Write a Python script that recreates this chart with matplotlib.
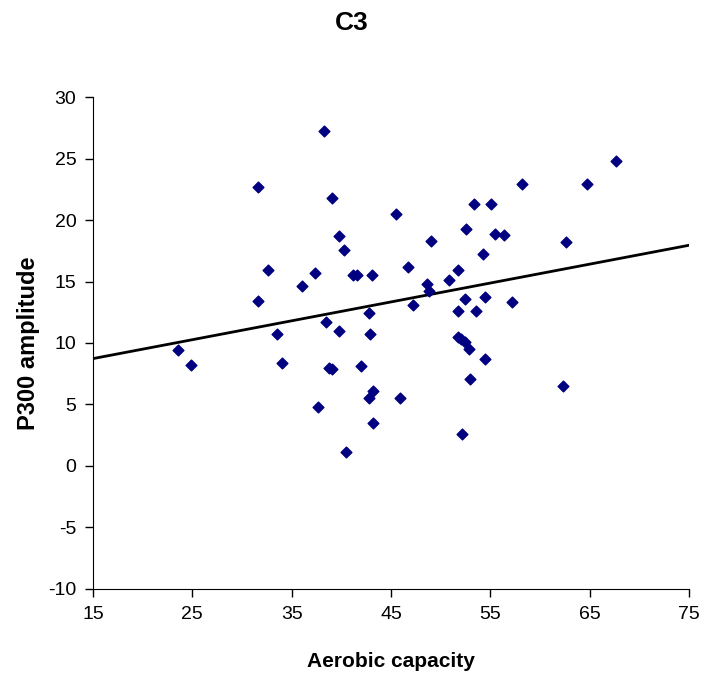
import numpy as np
import matplotlib.pyplot as plt

# Data
AEROBIC = [23.6, 24.9, 31.6, 31.6, 32.6, 33.5, 34.0, 36.0, 37.4, 37.7,
           38.3, 38.5, 38.8, 39.1, 39.1, 39.8, 39.8, 40.3, 40.5, 41.2,
           41.6, 42.0, 42.8, 42.8, 42.9, 43.1, 43.2, 43.2, 45.5, 45.9,
           46.7, 47.2, 48.6, 48.8, 49.0, 50.8, 51.7, 51.7, 51.7, 52.1,
           52.2, 52.5, 52.5, 52.6, 52.9, 53.0, 53.4, 53.6, 54.3, 54.5,
           54.5, 55.1, 55.5, 56.4, 57.2, 58.2, 62.3, 62.6, 64.7, 67.7]
P300 = [9.4, 8.2, 22.7, 13.4, 15.9, 10.7, 8.4, 14.6, 15.7, 4.8,
        27.2, 11.7, 8.0, 7.9, 21.8, 18.7, 11.0, 17.6, 1.1, 15.5,
        15.5, 8.1, 12.4, 5.5, 10.7, 15.5, 6.1, 3.5, 20.5, 5.5,
        16.2, 13.1, 14.8, 14.2, 18.3, 15.1, 15.9, 12.6, 10.5, 10.3,
        2.6, 13.6, 10.1, 19.3, 9.5, 7.1, 21.3, 12.6, 17.2, 13.7,
        8.7, 21.3, 18.9, 18.8, 13.3, 22.9, 6.5, 18.2, 22.9, 24.8]
X_TICKS = [15, 25, 35, 45, 55, 65, 75]
Y_TICKS = [-10, -5, 0, 5, 10, 15, 20, 25, 30]

plt.rcParams['font.family'] = ['Liberation Sans', 'DejaVu Sans']
plt.rcParams['axes.unicode_minus'] = False

fig = plt.figure(figsize=(7.03, 6.79), dpi=100)
ax = fig.add_axes([0.1323, 0.1326, 0.8477, 0.7245])

ax.scatter(AEROBIC, P300, marker='D', s=30, color='#000080', zorder=3)

# linear trend line
slope, intercept = np.polyfit(AEROBIC, P300, 1)
xs = np.array([X_TICKS[0], X_TICKS[-1]])
ax.plot(xs, intercept + slope * xs, color='black', linewidth=2, zorder=2)

ax.set_xlim(15, 75)
ax.set_ylim(-10, 30)
ax.set_xticks(X_TICKS)
ax.set_yticks(Y_TICKS)
ax.tick_params(direction='out', length=6, width=1, labelsize=14, pad=6)
for side in ('top', 'right'):
    ax.spines[side].set_visible(False)

ax.set_xlabel('Aerobic capacity', fontsize=15, fontweight='bold', labelpad=21)
ax.set_ylabel('P300 amplitude', fontsize=17, fontweight='bold', labelpad=6)
fig.suptitle('C3', x=0.50, y=0.984, fontsize=19, fontweight='bold')

plt.savefig('out.png', dpi=100)
